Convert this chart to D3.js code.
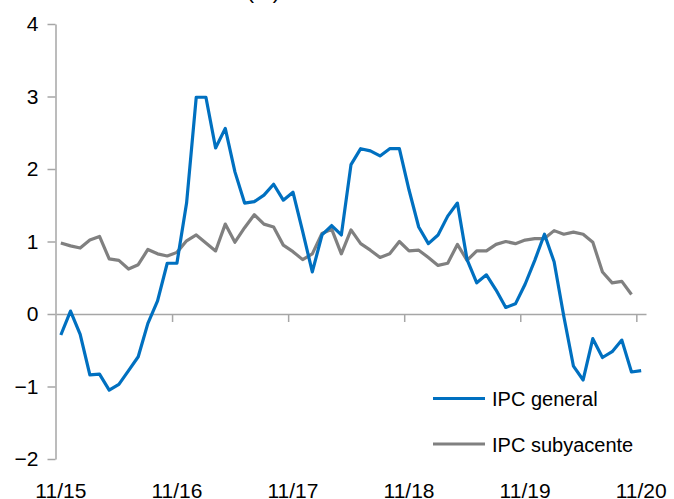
<!DOCTYPE html>
<html>
<head>
<meta charset="utf-8">
<script src="https://cdnjs.cloudflare.com/ajax/libs/d3/7.8.5/d3.min.js"></script>
<style>
  body { margin: 0; background: #fff; }
  text { font-family: "Liberation Sans", Arial, sans-serif; }
</style>
</head>
<body>
<div id="viz"></div>
<script>
//Datos: variacion interanual mensual, 11/15 a 11/20
var meses = d3.timeMonth.range(new Date(2015, 10, 1), new Date(2020, 11, 1));
var etiquetasX = ['11/15', '11/16', '11/17', '11/18', '11/19', '11/20'];
var ticksY = [-2, -1, 0, 1, 2, 3, 4];

var ipcGeneral = [
  -0.29, 0.04, -0.28, -0.84, -0.83, -1.05, -0.97, -0.78, -0.59, -0.13, 0.18, 0.70,
  0.70, 1.53, 2.99, 2.99, 2.29, 2.56, 1.96, 1.53, 1.55, 1.64, 1.79, 1.57,
  1.68, 1.14, 0.58, 1.09, 1.22, 1.09, 2.06, 2.28, 2.25, 2.18, 2.28, 2.28,
  1.71, 1.20, 0.97, 1.09, 1.35, 1.53, 0.75, 0.43, 0.54, 0.33, 0.09, 0.14,
  0.41, 0.74, 1.10, 0.72, -0.03, -0.72, -0.91, -0.34, -0.60, -0.52, -0.36, -0.80,
  -0.78
];
var ipcSubyacente = [
  0.98, 0.94, 0.91, 1.02, 1.07, 0.76, 0.74, 0.62, 0.68, 0.89, 0.83, 0.80,
  0.85, 1.01, 1.09, 0.98, 0.87, 1.24, 0.99, 1.19, 1.37, 1.24, 1.20, 0.95,
  0.86, 0.75, 0.83, 1.11, 1.17, 0.83, 1.16, 0.97, 0.88, 0.78, 0.83, 1.00,
  0.87, 0.88, 0.78, 0.67, 0.70, 0.96, 0.74, 0.87, 0.87, 0.96, 1.00, 0.97,
  1.02, 1.04, 1.04, 1.15, 1.10, 1.13, 1.10, 0.99, 0.58, 0.43, 0.45, 0.27
];

var series = [
  {nombre: 'IPC general', valores: ipcGeneral, color: '#0070c0'},
  {nombre: 'IPC subyacente', valores: ipcSubyacente, color: '#808080'}
];

/*
 * Configuracion
 */
var width = 674, height = 499;
var izq = 56, der = 646, arriba = 24, abajo = 459;
var colorEje = '#a6a6a6';

var svg = d3.select('#viz')
  .append('svg')
  .attr('width', width)
  .attr('height', height);

//Escalas
var x = d3.scaleBand()
  .domain(meses)
  .range([izq, der])
  .paddingInner(0)
  .paddingOuter(0);

//Escala lineal por indice de mes, para las marcas entre categorias
var xBordes = d3.scaleLinear()
  .domain([0, meses.length])
  .range([izq, der]);

var y = d3.scaleLinear()
  .domain([-2, 4])
  .range([abajo, arriba]);

//Titulo (cortado arriba en el original)
svg.append('text')
  .attr('x', 247)
  .attr('y', -1)
  .style('font-size', '21px')
  .style('fill', '#000')
  .text('(%)');

//Eje Y
var ejeY = svg.append('g')
  .attr('transform', 'translate(' + (izq - 0.5) + ',0)')
  .call(d3.axisLeft(y).tickValues(ticksY).tickFormat(d3.format('d'))
    .tickSize(8).tickSizeOuter(0).tickPadding(9));

//Linea del cero con las marcas cada 12 meses
var ejeCero = svg.append('g')
  .attr('transform', 'translate(0,' + y(0) + ')')
  .call(d3.axisBottom(xBordes).tickValues([12, 24, 36, 48, 60]).tickSize(8).tickSizeOuter(0).tickFormat(''));

//Etiquetas del eje X abajo del todo
var ejeX = svg.append('g')
  .attr('transform', 'translate(0,' + abajo + ')')
  .call(d3.axisBottom(x)
    .tickValues(meses.filter(function(d, i){ return i % 12 == 0; }))
    .tickFormat(function(d, i){ return etiquetasX[i]; })
    .tickSize(0)
    .tickPadding(24));
ejeX.select('.domain').remove();

[ejeY, ejeCero].forEach(function(g){
  g.selectAll('.domain, line')
    .attr('stroke', colorEje)
    .attr('stroke-width', 1.5);
});
[ejeY, ejeX].forEach(function(g){
  g.selectAll('text')
    .style('font-size', '21px')
    .style('font-family', '"Liberation Sans", Arial, sans-serif')
    .attr('fill', '#000');
});

//Lineas de las series
var linea = d3.line()
  .x(function(d, i){ return x(meses[i]) + x.bandwidth() / 2; })
  .y(function(d){ return y(d); });

svg.append('g')
  .selectAll('path')
  .data(series.slice().reverse())
  .join('path')
  .attr('d', function(s){ return linea(s.valores); })
  .attr('fill', 'none')
  .attr('stroke', function(s){ return s.color; })
  .attr('stroke-width', 3.2)
  .attr('stroke-linejoin', 'round');

//Leyenda
var leyenda = svg.append('g')
  .selectAll('g')
  .data(series)
  .join('g')
  .attr('transform', function(d, i){ return 'translate(433,' + (398.5 + i * 45.5) + ')'; });

leyenda.append('line')
  .attr('x1', 0)
  .attr('x2', 52)
  .attr('stroke', function(d){ return d.color; })
  .attr('stroke-width', 3.2);

leyenda.append('text')
  .attr('x', 59)
  .attr('y', 7.5)
  .style('font-size', '20px')
  .style('fill', '#000')
  .text(function(d){ return d.nombre; });
</script>
</body>
</html>
